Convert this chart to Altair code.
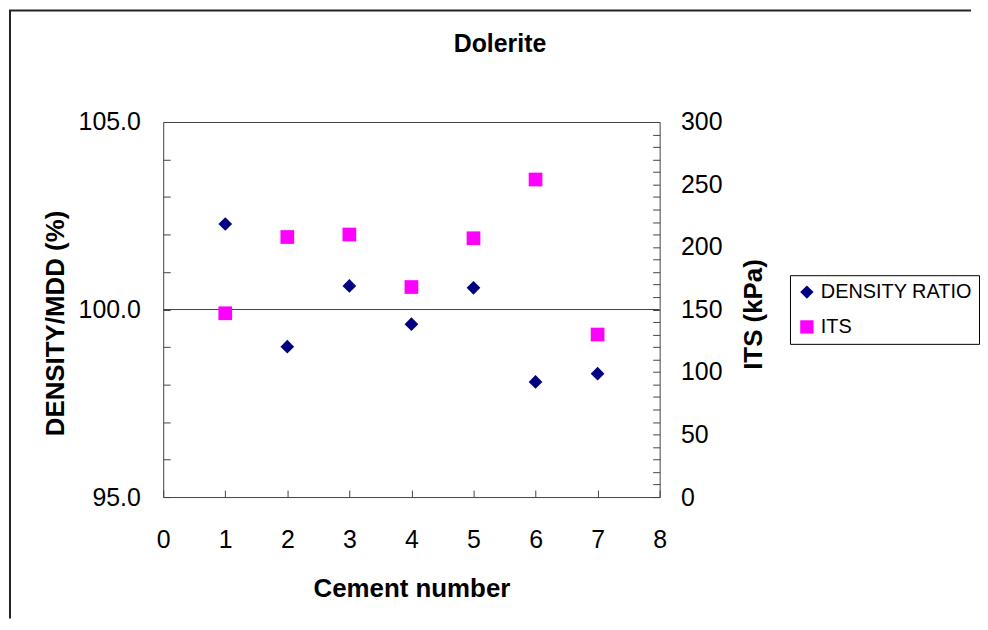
import altair as alt
import pandas as pd

# ---- data ----
cement = [1, 2, 3, 4, 5, 6, 7]
density_ratio = [102.28, 99.01, 100.63, 99.61, 100.58, 98.07, 98.29]
its_kpa = [147, 208, 210, 168, 207, 254, 130]
series_names = ["DENSITY RATIO", "ITS"]
series_colors = ["#000080", "#FF00FF"]
series_shapes = ["diamond", "square"]
x_ticks = list(range(0, 9))
left_ticks = list(range(95, 106))
right_ticks = list(range(0, 301, 10))
grid_value = [100.0]

W, H = 499, 377
FONT = "Liberation Sans"
LINE = "#444444"

dens_df = pd.DataFrame({"cement": cement, "value": density_ratio, "series": series_names[0]})
its_df = pd.DataFrame({"cement": cement, "value": its_kpa, "series": series_names[1]})
grid_df = pd.DataFrame({"value": grid_value})
one_df = pd.DataFrame({"k": [0]})

x_enc = alt.X(
    "cement:Q",
    scale=alt.Scale(domain=[0, 8], nice=False, zero=False),
    axis=alt.Axis(values=x_ticks, title="Cement number", orient="bottom", offset=-7,
                  tickSize=7, domain=False, grid=False, labelPadding=31, titlePadding=23,
                  format="d", labelFlush=False, labelOverlap=False),
)

color_enc = alt.Color("series:N", scale=alt.Scale(domain=series_names, range=series_colors),
                      legend=alt.Legend(title=None))
shape_enc = alt.Shape("series:N", scale=alt.Scale(domain=series_names, range=series_shapes),
                      legend=alt.Legend(title=None))

grid = alt.Chart(grid_df).mark_rule(color=LINE, strokeWidth=1).encode(
    y=alt.Y("value:Q", scale=alt.Scale(domain=[95, 105], nice=False, zero=False), axis=None)
)

dens = alt.Chart(dens_df).mark_point(filled=True, size=190, opacity=1).encode(
    x=x_enc,
    y=alt.Y("value:Q", scale=alt.Scale(domain=[95, 105], nice=False, zero=False),
            axis=alt.Axis(orient="left", values=left_ticks, format=".1f",
                          labelExpr="datum.value % 5 == 0 ? datum.label : ''",
                          title="DENSITY/MDD (%)", offset=-7, tickSize=7, domain=False,
                          grid=False, labelPadding=23, titleAngle=270, titleX=-115,
                          titleY=202, titleBaseline="middle", titleAlign="center",
                          labelOverlap=False, labelFlush=False)),
    color=color_enc,
    shape=shape_enc,
)

its = alt.Chart(its_df).mark_point(filled=True, size=190, opacity=1).encode(
    x=x_enc,
    y=alt.Y("value:Q", scale=alt.Scale(domain=[0, 300], nice=False),
            axis=alt.Axis(orient="right", values=right_ticks,
                          labelExpr="datum.value % 50 == 0 ? datum.label : ''",
                          title="ITS (kPa)", offset=-7, tickSize=7, domain=False,
                          grid=False, labelPadding=21, titleAngle=270, titleX=101,
                          titleY=193, titleBaseline="middle", titleAlign="center",
                          labelOverlap=False, labelFlush=False)),
    color=color_enc,
    shape=shape_enc,
)

frame_left = alt.Chart(one_df).mark_rule(color="#222222", strokeWidth=2).encode(
    x=alt.value(-154), y=alt.value(-112), y2=alt.value(499)
)
frame_top = alt.Chart(one_df).mark_rule(color="#222222", strokeWidth=2).encode(
    x=alt.value(-155), x2=alt.value(812), y=alt.value(-112)
)

chart = (
    alt.layer(frame_left, frame_top, grid, dens, its)
    .resolve_scale(y="independent")
    .properties(
        width=W,
        height=H,
        padding=0,
        background="white",
        title=alt.TitleParams("Dolerite", font=FONT, fontSize=25, fontWeight="bold",
                              anchor="middle", frame="group", dx=89, offset=0, dy=68,
                              baseline="alphabetic", color="black"),
    )
    .configure_view(stroke=LINE, strokeWidth=1)
    .configure_axis(labelFont=FONT, labelFontSize=25, labelColor="black",
                    titleFont=FONT, titleFontSize=26, titleFontWeight="bold",
                    titleColor="black", tickColor=LINE, tickWidth=1)
    .configure_legend(orient="none", legendX=630, legendY=154, strokeColor="black",
                      strokeWidth=1, fillColor="white", padding=7, labelFont=FONT,
                      labelFontSize=20, labelColor="black", symbolSize=180,
                      symbolStrokeWidth=0, rowPadding=15, labelOffset=4,
                      cornerRadius=0)
)

chart.save("out.html", embed_options={"renderer": "svg", "actions": False})
